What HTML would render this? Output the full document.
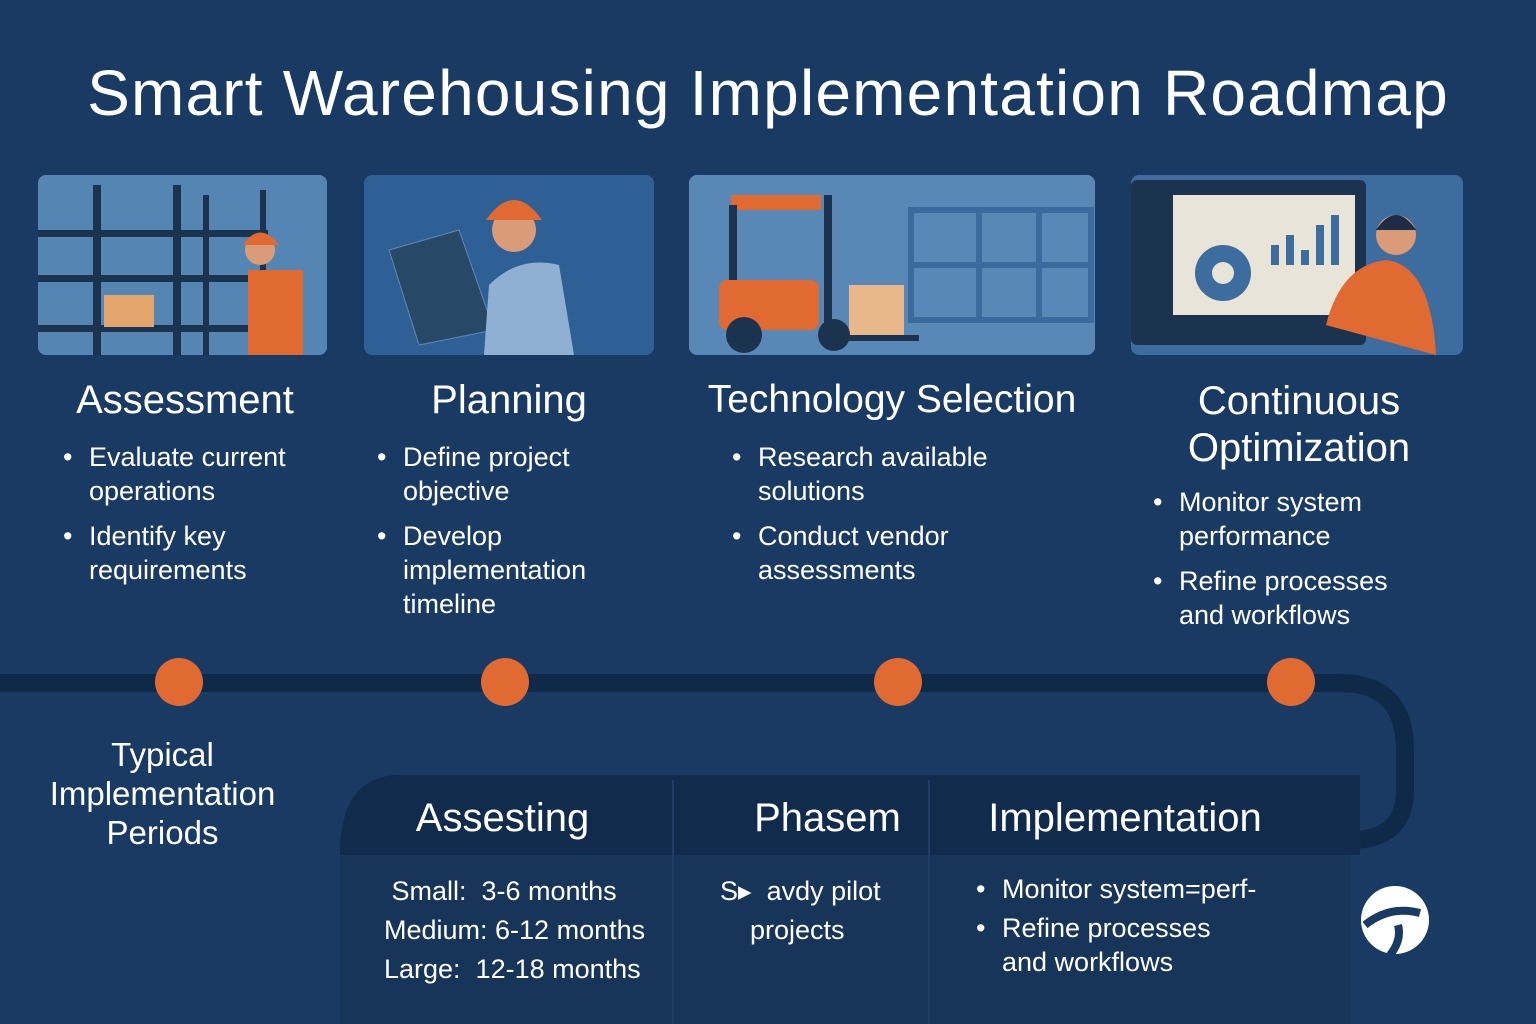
<!DOCTYPE html>
<html><head><meta charset="utf-8"><style>
body{margin:0;width:1536px;height:1024px;overflow:hidden;background:#193a62;font-family:"Liberation Sans",sans-serif;color:#fff;position:relative}
.a{position:absolute}
h1{position:absolute;left:0;width:1536px;top:56px;margin:0;text-align:center;font-size:64px;font-weight:normal;letter-spacing:1.2px}
.img{position:absolute;top:175px;height:180px;border-radius:8px;background:#3d6d9e;overflow:hidden}
.t{position:absolute;font-size:38px;text-align:center}
.ul{position:absolute;font-size:27px;line-height:34px}
.ul div{position:relative;padding-left:0;margin-bottom:11px}
.ul div:before{content:"•";position:absolute;left:-26px}
.dot{position:absolute;width:48px;height:48px;border-radius:50%;background:#e06a32;top:658px}
</style></head><body>
<h1>Smart Warehousing Implementation Roadmap</h1>

<div class="img" style="left:38px;width:289px;background:#4c7aa8">
<svg width="289" height="180"><rect x="0" y="0" width="289" height="180" fill="#5585b3"/>
<g fill="#1c3350"><rect x="55" y="10" width="8" height="170"/><rect x="135" y="10" width="8" height="170"/><rect x="0" y="55" width="230" height="7"/><rect x="0" y="100" width="230" height="7"/><rect x="0" y="150" width="230" height="7"/><rect x="165" y="20" width="6" height="160"/><rect x="222" y="15" width="6" height="165"/></g>
<rect x="66" y="120" width="50" height="32" fill="#e3a56b"/>
<rect x="210" y="95" width="55" height="85" fill="#e06a32"/><circle cx="222" cy="75" r="15" fill="#d99b78"/><path d="M205 70 q17-25 36 0z" fill="#e06a32"/>
</svg></div>

<div class="img" style="left:364px;width:290px;background:#2e5f95">
<svg width="290" height="180"><path d="M25 75 L95 55 L130 155 L55 170z" fill="#284868" stroke="#5f88b5"/>
<path d="M125 110 q30-30 70-20 l15 90 h-90z" fill="#8fb0d3"/><circle cx="150" cy="55" r="22" fill="#d99b78"/><path d="M122 45 q28-40 56 0z" fill="#e06a32"/></svg></div>

<div class="img" style="left:689px;width:406px;background:#5a88b6">
<svg width="406" height="180"><g stroke="#3b6b9c" stroke-width="6" fill="none"><rect x="222" y="35" width="180" height="110"/><line x1="222" y1="90" x2="402" y2="90"/><line x1="290" y1="35" x2="290" y2="145"/><line x1="350" y1="35" x2="350" y2="145"/></g>
<rect x="42" y="20" width="90" height="15" fill="#e06a32"/><rect x="40" y="30" width="8" height="110" fill="#1c3350"/><rect x="135" y="20" width="8" height="140" fill="#1c3350"/><rect x="30" y="105" width="100" height="50" rx="8" fill="#e06a32"/><rect x="160" y="110" width="55" height="50" fill="#e8b88a"/><rect x="140" y="160" width="90" height="6" fill="#1c3350"/><circle cx="55" cy="160" r="18" fill="#1c3350"/><circle cx="145" cy="160" r="16" fill="#1c3350"/></svg></div>

<div class="img" style="left:1131px;width:332px;background:#3d6d9e">
<svg width="332" height="180"><rect x="0" y="5" width="235" height="165" rx="6" fill="#1c3350"/><rect x="42" y="20" width="182" height="120" fill="#e8e4d8"/>
<circle cx="92" cy="98" r="28" fill="#3d6d9e"/><circle cx="92" cy="98" r="11" fill="#e8e4d8"/><g fill="#3d6d9e"><rect x="140" y="70" width="8" height="20"/><rect x="155" y="60" width="8" height="30"/><rect x="170" y="75" width="8" height="15"/><rect x="185" y="50" width="8" height="40"/><rect x="200" y="40" width="8" height="50"/></g>
<path d="M195 150 q15-60 60-65 q45 5 50 95z" fill="#e06a32"/><circle cx="265" cy="60" r="20" fill="#d99b78"/><path d="M245 55 q20-30 40 0z" fill="#1c2d45"/></svg></div>

<div class="t" style="left:35px;width:300px;top:378px;font-size:40px">Assessment</div>
<div class="t" style="left:359px;width:300px;top:378px;font-size:40px">Planning</div>
<div class="t" style="left:680px;width:424px;top:378px;font-size:39px">Technology Selection</div>
<div class="t" style="left:1121px;width:356px;top:378px;line-height:47px;font-size:40px">Continuous<br>Optimization</div>

<div class="ul" style="left:89px;top:440px"><div>Evaluate current<br>operations</div><div>Identify key<br>requirements</div></div>
<div class="ul" style="left:403px;top:440px"><div>Define project<br>objective</div><div>Develop<br>implementation<br>timeline</div></div>
<div class="ul" style="left:758px;top:440px"><div>Research available<br>solutions</div><div>Conduct vendor<br>assessments</div></div>
<div class="ul" style="left:1179px;top:485px"><div>Monitor system<br>performance</div><div>Refine processes<br>and workflows</div></div>

<svg class="a" style="left:0;top:0" width="1536" height="1024">
<path d="M0 683 H1340 Q1405 683 1405 750 V790 Q1405 840 1350 840" stroke="#0f2a48" stroke-width="18" fill="none"/>
<path d="M340 855 Q340 775 400 775 H1360 V855z" fill="#102b4b"/>
<rect x="340" y="855" width="1010" height="169" fill="#163558"/>
<line x1="673" y1="780" x2="673" y2="1024" stroke="#1d3e66" stroke-width="2"/>
<line x1="929" y1="780" x2="929" y2="1024" stroke="#1d3e66" stroke-width="2"/>
</svg>

<div class="dot" style="left:155px"></div><div class="dot" style="left:481px"></div><div class="dot" style="left:874px"></div><div class="dot" style="left:1267px"></div>

<div class="t" style="left:15px;width:295px;top:735px;font-size:33px;line-height:39px">Typical<br>Implementation<br>Periods</div>
<div class="t" style="left:375px;width:255px;top:796px;font-size:40px">Assesting</div>
<div class="t" style="left:735px;width:185px;top:796px;font-size:40px">Phasem</div>
<div class="t" style="left:955px;width:340px;top:796px;font-size:40px">Implementation</div>
<div class="a" style="left:384px;top:872px;font-size:27px;line-height:39px">&nbsp;Small:&nbsp; 3-6 months<br>Medium: 6-12 months<br>Large:&nbsp; 12-18 months</div>
<div class="a" style="left:720px;top:872px;font-size:27px;line-height:39px">S▸&nbsp; avdy pilot<br>&nbsp;&nbsp;&nbsp;&nbsp;projects</div>
<div class="ul" style="left:1002px;top:872px"><div style="margin:0 0 5px">Monitor system=perf-</div><div>Refine processes<br>and workflows</div></div>
<svg class="a" style="left:1360px;top:885px" width="70" height="70"><circle cx="35" cy="35" r="34" fill="#fff"/><path d="M5 40 Q30 20 60 28" stroke="#193a62" stroke-width="8" fill="none"/><path d="M38 40 Q42 55 30 70" stroke="#193a62" stroke-width="8" fill="none"/></svg>
</body></html>
